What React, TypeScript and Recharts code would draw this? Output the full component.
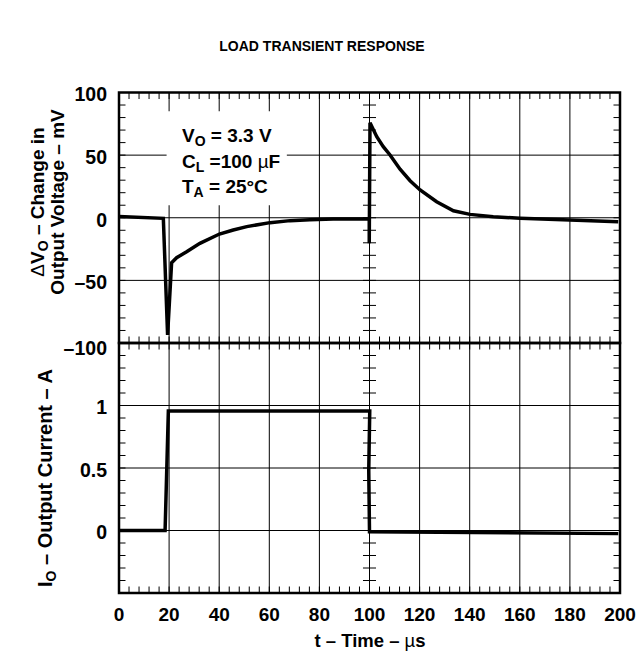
import React from 'react';
import { LineChart, Line, XAxis, YAxis, CartesianGrid, ReferenceLine, ReferenceArea } from 'recharts';

const FONT = '"Liberation Sans", Arial, Helvetica, sans-serif';

// Top panel: change in output voltage (mV) vs time (µs)
const vTime = [0, 17.7, 19.4, 21.0, 23.0, 27.0, 32.3, 40.1, 45.6, 51.0, 60.3, 68.3, 76.2, 85.5, 99.9, 99.9, 100.2, 102.9, 105.5, 108.2, 112.2, 116.2, 120.2, 126.8, 133.5, 140.1, 149.4, 160.1, 180.0, 199.3];
const vDelta = [1, -0.5, -93.6, -35.9, -31.9, -27.1, -20.4, -13.0, -9.8, -7.1, -3.9, -2.3, -1.5, -1.0, -1.0, -20.4, 75.9, 64.7, 56.7, 50.1, 38.7, 29.6, 22.2, 12.8, 5.6, 2.7, 0.8, -0.4, -1.8, -3.2];

// Bottom panel: output current (A) vs time (µs)
const iTime = [0, 18.4, 19.7, 99.5, 100.1, 99.7, 100.0, 199.3];
const iOut = [0, 0, 0.957, 0.957, 0.957, 0.48, -0.01, -0.025];

// Axes
const xTicks = [0, 20, 40, 60, 80, 100, 120, 140, 160, 180, 200];
const xTickLabels = ['0', '20', '40', '60', '80', '100', '120', '140', '160', '180', '200'];
const vTicks = [100, 50, 0, -50, -100];
const vTickLabels = ['100', '50', '0', '–50', '–100'];
const iTicks = [1.5, 1, 0.5, 0, -0.5];
const iTickLabels = ['', '1', '0.5', '0', ''];

// Minor tick mark positions (axis decoration)
const xMinor = Array.from({ length: 49 }, (_, k) => (k + 1) * 4);
const vMinor = Array.from({ length: 19 }, (_, k) => -90 + k * 10);
const iMinor = Array.from({ length: 19 }, (_, k) => Math.round((-0.4 + k * 0.1) * 10) / 10);

const vData = vTime.map((t, k) => ({ t, v: vDelta[k] }));
const iData = iTime.map((t, k) => ({ t, i: iOut[k] }));

const TX = 2.6; // tick half-length in µs
const TV = 5.2; // tick length in mV
const TI = 0.052; // tick length in A

const labelFor = (ticks: number[], labels: string[], v: number) => {
  const k = ticks.findIndex((t) => Math.abs(t - v) < 1e-9);
  return k >= 0 ? labels[k] : '';
};

const makeYTick = (ticks: number[], labels: string[]) => (props: any) => {
  const { x, y, payload } = props;
  const lab = labelFor(ticks, labels, payload.value);
  const extra = lab === '–100' ? 5 : 2;
  return (
    <text x={x} y={y + extra} dy="0.35em" textAnchor="end" fontFamily={FONT} fontWeight="bold" fontSize={19.5} fill="#000">
      {lab}
    </text>
  );
};

const XTick = (props: any) => {
  const { x, y, payload } = props;
  return (
    <text x={x} y={y} dy="0.72em" textAnchor="middle" fontFamily={FONT} fontWeight="bold" fontSize={19} fill="#000">
      {labelFor(xTicks, xTickLabels, payload.value)}
    </text>
  );
};

const tickLines = (yMinor: number[], yLo: number, yHi: number, tY: number, prefix: string) => {
  const els: any[] = [];
  yMinor.forEach((v) => {
    els.push(<ReferenceLine key={`${prefix}l${v}`} segment={[{ x: 0, y: v }, { x: TX, y: v }]} stroke="#000" strokeWidth={1} />);
    els.push(<ReferenceLine key={`${prefix}r${v}`} segment={[{ x: 200 - TX, y: v }, { x: 200, y: v }]} stroke="#000" strokeWidth={1} />);
    els.push(<ReferenceLine key={`${prefix}c${v}`} segment={[{ x: 100 - TX, y: v }, { x: 100 + TX, y: v }]} stroke="#000" strokeWidth={1} />);
  });
  xMinor.forEach((t) => {
    els.push(<ReferenceLine key={`${prefix}t${t}`} segment={[{ x: t, y: yHi - tY }, { x: t, y: yHi }]} stroke="#000" strokeWidth={1} />);
    els.push(<ReferenceLine key={`${prefix}b${t}`} segment={[{ x: t, y: yLo }, { x: t, y: yLo + tY }]} stroke="#000" strokeWidth={1} />);
  });
  return els;
};

const bold = { fontFamily: FONT, fontWeight: 'bold' as const, fill: '#000' };

export default function App() {
  return (
    <div style={{ position: 'absolute', left: 0, top: 0, width: 640, height: 665, background: '#fff' }}>
      <div style={{ position: 'absolute', left: 0, top: 0 }}>
        <LineChart width={640} height={665} data={vData} margin={{ top: 92.5, right: 20, bottom: 322, left: 59 }}>
          <CartesianGrid stroke="#000" strokeWidth={1} />
          <XAxis type="number" dataKey="t" domain={[0, 200]} ticks={xTicks} hide />
          <YAxis type="number" domain={[-100, 100]} ticks={vTicks} interval={0} width={60} tickLine={false} axisLine={false} tickSize={0} tickMargin={12} tick={makeYTick(vTicks, vTickLabels)} />
          <ReferenceArea x1={19} x2={67} y1={10} y2={85} fill="#fff" fillOpacity={1} stroke="none" />
          {tickLines(vMinor, -100, 100, TV, 'v')}
          <ReferenceArea x1={0} x2={200} y1={-100} y2={100} fill="none" stroke="#000" strokeWidth={2.5} />
          <Line type="linear" dataKey="v" stroke="#000" strokeWidth={3.5} dot={false} isAnimationActive={false} />
        </LineChart>
      </div>
      <div style={{ position: 'absolute', left: 0, top: 0 }}>
        <LineChart width={640} height={665} data={iData} margin={{ top: 343, right: 20, bottom: 32, left: 59 }}>
          <CartesianGrid stroke="#000" strokeWidth={1} />
          <XAxis type="number" dataKey="t" domain={[0, 200]} ticks={xTicks} interval={0} height={40} tickLine={false} axisLine={false} tickSize={0} tickMargin={14} tick={<XTick />} />
          <YAxis type="number" domain={[-0.5, 1.5]} ticks={iTicks} interval={0} width={60} tickLine={false} axisLine={false} tickSize={0} tickMargin={12} tick={makeYTick(iTicks, iTickLabels)} />
          {tickLines(iMinor, -0.5, 1.5, TI, 'i')}
          <ReferenceArea x1={0} x2={200} y1={-0.5} y2={1.5} fill="none" stroke="#000" strokeWidth={2.5} />
          <Line type="linear" dataKey="i" stroke="#000" strokeWidth={3.5} dot={false} isAnimationActive={false} />
        </LineChart>
      </div>
      <svg width={640} height={665} style={{ position: 'absolute', left: 0, top: 0, pointerEvents: 'none' }}>
        <text x={322} y={51} textAnchor="middle" fontSize={14} {...bold}>LOAD TRANSIENT RESPONSE</text>
        <text x={370} y={647} textAnchor="middle" fontSize={18.5} {...bold}>
          t – Time – <tspan fontWeight="normal">µ</tspan>s
        </text>
        <text transform="translate(44,202) rotate(-90)" textAnchor="middle" fontSize={19} {...bold}>
          <tspan fontWeight="normal">Δ</tspan>V<tspan fontSize={14} dy={4}>O</tspan><tspan dy={-4}> – Change in</tspan>
        </text>
        <text transform="translate(64,202) rotate(-90)" textAnchor="middle" fontSize={19} {...bold}>
          Output Voltage – mV
        </text>
        <text transform="translate(52,478) rotate(-90)" textAnchor="middle" fontSize={20} {...bold}>
          I<tspan fontSize={14} dy={4}>O</tspan><tspan dy={-4}> – Output Current – A</tspan>
        </text>
        <text x={182} y={142} fontSize={19} {...bold}>
          V<tspan fontSize={14} dy={4}>O</tspan><tspan dy={-4}> = 3.3 V</tspan>
        </text>
        <text x={182} y={168} fontSize={19} {...bold}>
          C<tspan fontSize={14} dy={4}>L</tspan><tspan dy={-4}> =100 </tspan><tspan fontWeight="normal">µ</tspan>F
        </text>
        <text x={182} y={193} fontSize={19} {...bold}>
          T<tspan fontSize={14} dy={4}>A</tspan><tspan dy={-4}> = 25°C</tspan>
        </text>
      </svg>
    </div>
  );
}
